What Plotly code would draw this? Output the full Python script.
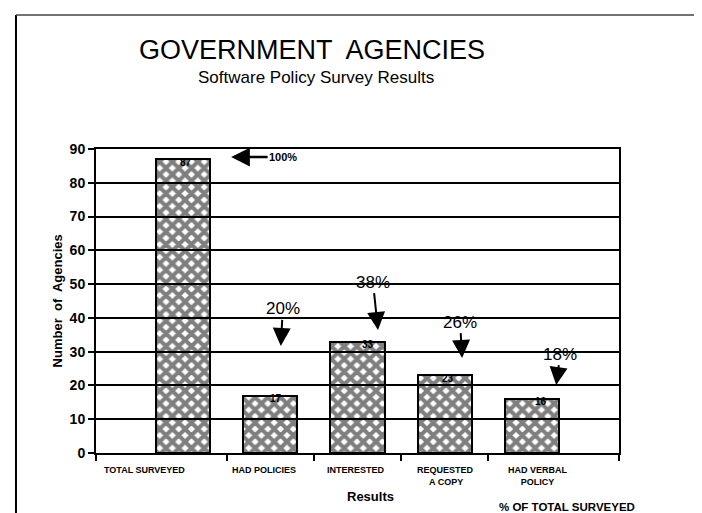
import plotly.graph_objects as go

categories = ["TOTAL SURVEYED", "HAD POLICIES", "INTERESTED", "REQUESTED<br> A COPY", "HAD VERBAL<br>POLICY"]
values = [87, 17, 33, 23, 16]
pct_labels = ["100%", "20%", "38%", "26%", "18%"]
yticks = [0, 10, 20, 30, 40, 50, 60, 70, 80, 90]

x_pos = list(range(len(categories)))
FONT = "Liberation Sans"

fig = go.Figure()
fig.add_trace(go.Bar(
    x=x_pos, y=values, width=0.62,
    marker=dict(color="rgba(0,0,0,0)",
                line=dict(color="black", width=2),
                pattern=dict(shape="x", size=9, solidity=0.7,
                             fgcolor="black", bgcolor="rgba(0,0,0,0)", fillmode="overlay")),
    showlegend=False, hoverinfo="skip",
))

ann = []
# value labels at bar tops
val_dx = [0.03, 0.07, 0.12, 0.04, 0.1]
for i, v in enumerate(values):
    ann.append(dict(x=x_pos[i] + val_dx[i], y=v, text=str(v), showarrow=False,
                    yanchor="middle", yshift=-3,
                    font=dict(family=FONT, size=10, color="black", weight="bold")))

# percentage call-outs (arrow tip in data coords, text offset in pixels)
tips = [(0.55, 87.6), (1.12, 31.7), (2.235, 36.4), (3.2, 28.1), (4.28, 20.1)]
offs = [(52, 0), (2, -37), (-5, -48), (-2, -36), (4, -31)]
for i, p in enumerate(pct_labels):
    big = i > 0
    ann.append(dict(x=tips[i][0], y=tips[i][1], text=p, showarrow=True,
                    ax=offs[i][0], ay=offs[i][1],
                    arrowhead=2, arrowsize=1.8 if big else 1.5, arrowwidth=2 if big else 2.5,
                    arrowcolor="black",
                    font=dict(family=FONT, size=17 if big else 11, color="black",
                              weight="normal" if big else "bold")))

# category labels
cat_dx = [-0.44, -0.07, -0.02, 0.01, 0.07]
for i, c in enumerate(categories):
    ann.append(dict(x=x_pos[i] + cat_dx[i], y=0, yref="paper", text=c, showarrow=False,
                    yanchor="top", yshift=-10,
                    font=dict(family=FONT, size=9, color="black", weight="bold")))
ann.append(dict(x=2.15, y=0, yref="paper", text="Results", showarrow=False,
                yanchor="top", yshift=-34,
                font=dict(family=FONT, size=13, color="black", weight="bold")))
ann.append(dict(x=4.4, y=0, yref="paper", text="% OF TOTAL SURVEYED", showarrow=False,
                yanchor="top", yshift=-46,
                font=dict(family=FONT, size=11.5, color="black", weight="bold")))

# titles and y title
ann.append(dict(x=0.413, y=1.326, xref="paper", yref="paper", text="GOVERNMENT  AGENCIES",
                showarrow=False, yanchor="middle",
                font=dict(family=FONT, size=27, color="black")))
ann.append(dict(x=0.42, y=1.234, xref="paper", yref="paper", text="Software Policy Survey Results",
                showarrow=False, yanchor="middle",
                font=dict(family=FONT, size=17, color="black")))
ann.append(dict(x=-0.092, y=0.5, xref="paper", yref="paper", text="Number  of  Agencies",
                showarrow=False, textangle=-90,
                font=dict(family=FONT, size=13, color="black", weight="bold")))

shapes = [
    dict(type="line", xref="paper", yref="paper", x0=-0.153, x1=-0.153, y0=-0.204, y1=1.441,
         line=dict(color="black", width=2)),
    dict(type="line", xref="paper", yref="paper", x0=-0.153, x1=1.2, y0=1.441, y1=1.441,
         line=dict(color="#444", width=1.5)),
    dict(type="line", xref="paper", yref="paper", x0=-0.153, x1=1.2, y0=-0.204, y1=-0.204,
         line=dict(color="black", width=3)),
]

fig.update_layout(
    width=702, height=513,
    margin=dict(l=88, r=91, t=141, b=68),
    paper_bgcolor="white", plot_bgcolor="white",
    annotations=ann, shapes=shapes,
    bargap=0,
    xaxis=dict(range=[-1, 5], tickvals=[-1, 0.5, 1.5, 2.5, 3.5, 5], showticklabels=False,
               ticks="outside", ticklen=6, tickwidth=2, tickcolor="black",
               showgrid=False, zeroline=False,
               showline=True, linecolor="black", linewidth=2, mirror=True),
    yaxis=dict(range=[0, 90], tickvals=yticks, ticks="outside", ticklen=6, tickwidth=2,
               tickcolor="black", showgrid=True, gridcolor="black", gridwidth=2,
               zeroline=False, showline=True, linecolor="black", linewidth=2, mirror=True,
               tickfont=dict(family=FONT, size=14, color="black", weight="bold")),
    font=dict(family=FONT, color="black"),
)

fig.write_html("out.html")
